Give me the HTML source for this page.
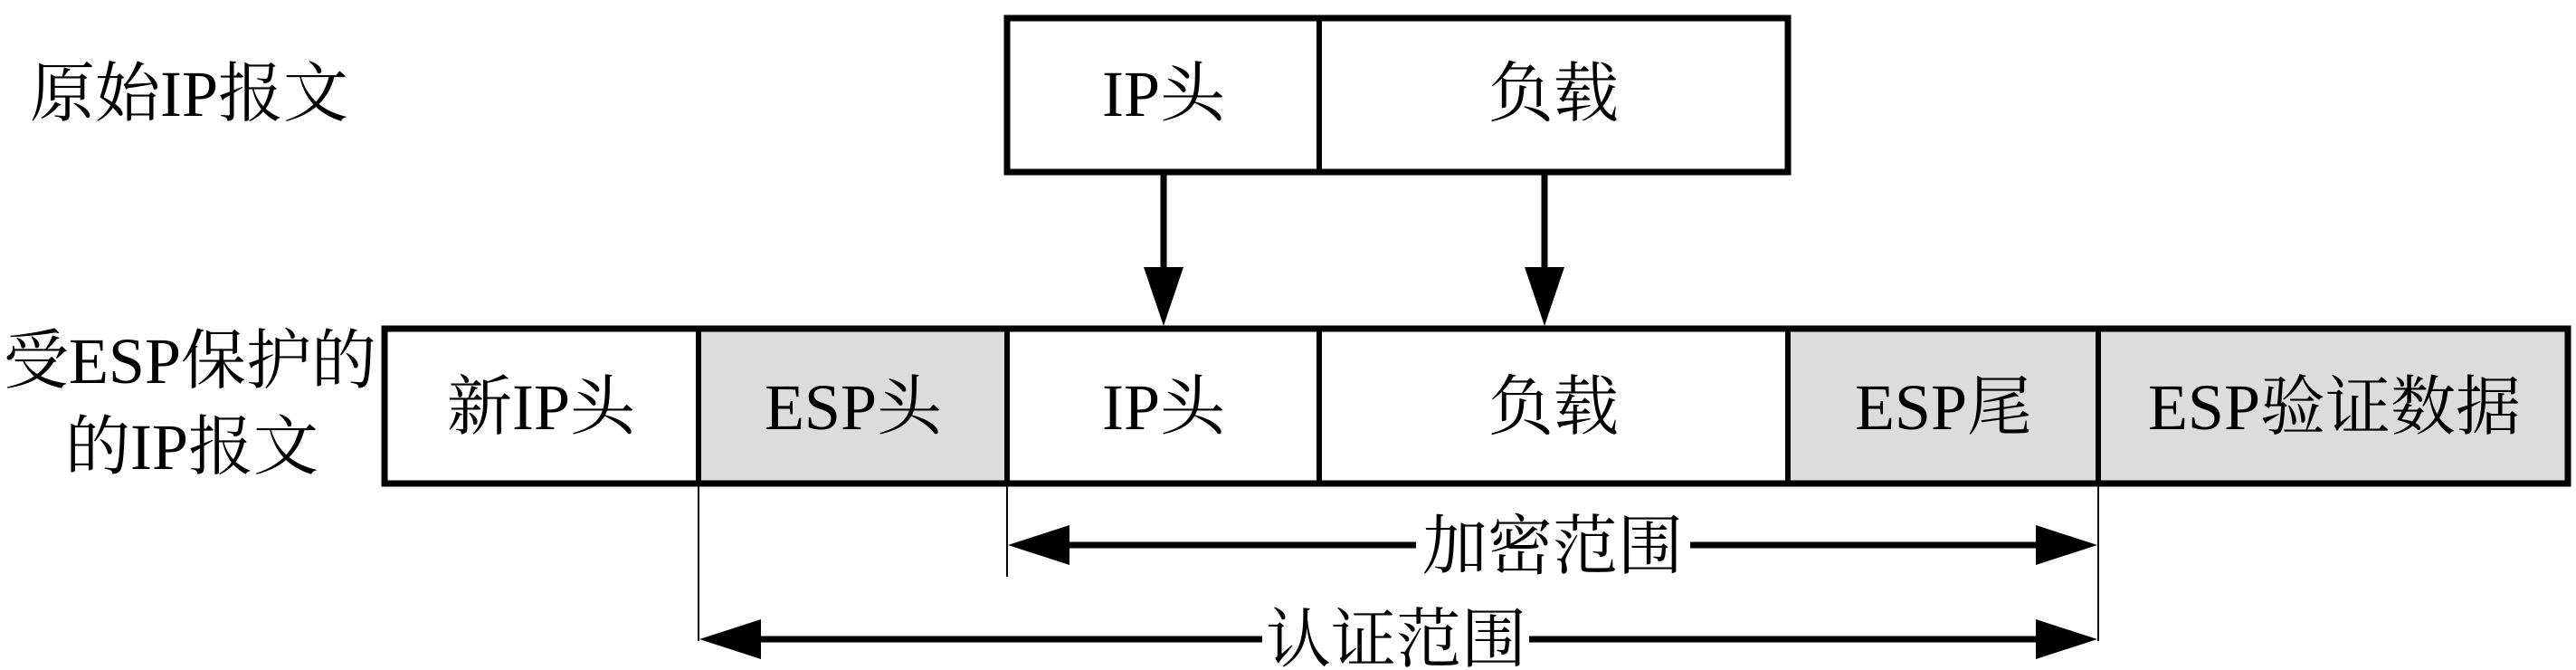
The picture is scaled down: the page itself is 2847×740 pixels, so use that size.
<!DOCTYPE html>
<html><head><meta charset="utf-8"><style>html,body{margin:0;padding:0;background:#fff}svg{display:block}</style></head>
<body>
<svg width="2847" height="740" viewBox="0 0 2847 740" xmlns="http://www.w3.org/2000/svg" font-family="'Liberation Serif','Noto Serif CJK SC',serif" font-size="72">
<rect x="0" y="0" width="2847" height="740" fill="#fff"/>
<!-- top boxes -->
<rect x="1113" y="20" width="863" height="170" fill="#fff" stroke="#000" stroke-width="7"/>
<line x1="1458" y1="20" x2="1458" y2="190" stroke="#000" stroke-width="6"/>
<!-- bottom row fills -->
<rect x="772" y="363" width="341" height="171" fill="#dcdcdc"/>
<rect x="1976" y="363" width="862" height="171" fill="#dcdcdc"/>
<rect x="425" y="363" width="2413" height="171" fill="none" stroke="#000" stroke-width="7"/>
<g stroke="#000" stroke-width="6">
<line x1="772" y1="363" x2="772" y2="534"/>
<line x1="1113" y1="363" x2="1113" y2="534"/>
<line x1="1458" y1="363" x2="1458" y2="534"/>
<line x1="1976" y1="363" x2="1976" y2="534"/>
<line x1="2319" y1="363" x2="2319" y2="534"/>
</g>
<!-- down arrows -->
<g stroke="#000" stroke-width="7">
<line x1="1286" y1="190" x2="1286" y2="300"/>
<line x1="1707" y1="190" x2="1707" y2="300"/>
</g>
<polygon points="1264,295 1308,295 1286,360" fill="#000"/>
<polygon points="1685,295 1729,295 1707,360" fill="#000"/>
<!-- thin ticks -->
<g stroke="#000" stroke-width="2">
<line x1="1113" y1="534" x2="1113" y2="637"/>
<line x1="772" y1="534" x2="772" y2="708"/>
<line x1="2319" y1="534" x2="2319" y2="708"/>
</g>
<!-- range arrows -->
<g stroke="#000" stroke-width="7">
<line x1="1170" y1="602" x2="1565" y2="602"/>
<line x1="1868" y1="602" x2="2260" y2="602"/>
<line x1="830" y1="706" x2="1395" y2="706"/>
<line x1="1690" y1="706" x2="2260" y2="706"/>
</g>
<polygon points="1114,602 1182,580 1182,624" fill="#000"/>
<polygon points="2318,602 2250,580 2250,624" fill="#000"/>
<polygon points="773,706 841,684 841,728" fill="#000"/>
<polygon points="2318,706 2250,684 2250,728" fill="#000"/>
<g text-anchor="middle" fill="#000">
<text x="1716" y="628">加密范围</text>
<text x="1543" y="731">认证范围</text>
<text x="1286" y="128">IP头</text>
<text x="1717" y="128">负载</text>
<text x="598" y="474">新IP头</text>
<text x="943" y="474">ESP头</text>
<text x="1286" y="474">IP头</text>
<text x="1717" y="474">负载</text>
<text x="2148" y="474">ESP尾</text>
<text x="2580" y="474">ESP验证数据</text>
<text x="210" y="423">受ESP保护的</text>
<text x="212" y="518">的IP报文</text>
</g>
<text x="33" y="128">原始IP报文</text>
</svg>
</body></html>
